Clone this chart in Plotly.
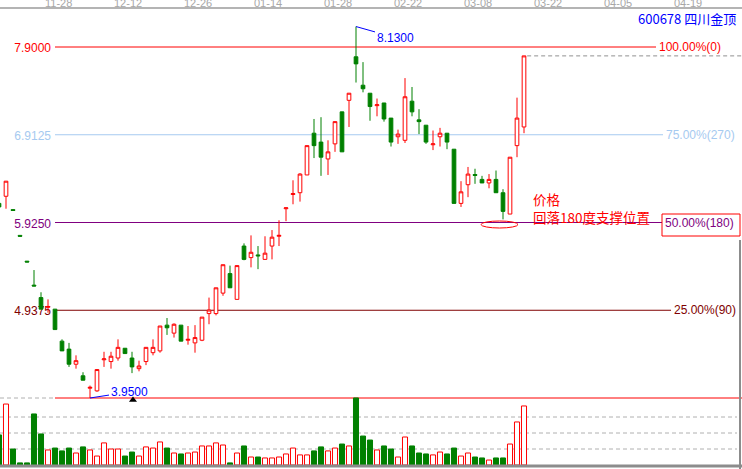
import plotly.graph_objects as go

# ---- daily sessions (index 0 = first visible session) ----
opens = [6.14, 6.22, 6.07, 5.78, 5.49, 5.22, 5.08, 4.97, 4.95, 4.59,
         4.50, 4.33, 4.20, 4.06, 4.03, 4.38, 4.36, 4.40, 4.51, 4.40,
         4.28, 4.36, 4.46, 4.48, 4.77, 4.68, 4.77, 4.60, 4.57, 4.60,
         4.90, 4.90, 5.13, 5.35, 5.06, 5.66, 5.53, 5.56, 5.51, 5.66,
         5.77, 6.08, 6.24, 6.26, 6.46, 6.93, 6.83, 6.64, 6.81, 7.17,
         7.30, 7.79, 7.47, 7.38, 7.24, 7.27, 7.10, 6.89, 6.85, 7.29,
         7.08, 7.02, 6.80, 6.89, 6.93, 6.75, 6.14, 6.35, 6.465, 6.41,
         6.37, 6.41, 6.26, 6.02, 6.79, 7.00]
highs = [6.14, 6.39, 6.07, 5.78, 5.49, 5.39, 5.14, 5.06, 4.95, 4.61,
         4.57, 4.43, 4.24, 4.09, 4.27, 4.47, 4.47, 4.61, 4.51, 4.47,
         4.37, 4.52, 4.61, 4.76, 4.85, 4.79, 4.77, 4.76, 4.77, 4.86,
         5.08, 5.19, 5.45, 5.44, 5.44, 5.69, 5.78, 5.66, 5.77, 5.84,
         5.95, 6.09, 6.40, 6.48, 6.79, 7.09, 7.11, 6.85, 7.06, 7.17,
         7.38, 8.13, 7.73, 7.38, 7.32, 7.27, 7.10, 6.97, 7.55, 7.45,
         7.20, 7.02, 6.96, 6.99, 6.93, 6.75, 6.39, 6.55, 6.53, 6.45,
         6.47, 6.51, 6.30, 6.66, 7.33, 7.80]
lows = [6.10, 6.08, 6.06, 5.77, 5.48, 5.21, 4.95, 4.91, 4.72, 4.48,
        4.30, 4.28, 4.15, 3.95, 4.02, 4.30, 4.28, 4.37, 4.45, 4.23,
        4.25, 4.32, 4.43, 4.46, 4.66, 4.63, 4.59, 4.55, 4.46, 4.59,
        4.78, 4.88, 5.10, 5.19, 5.06, 5.50, 5.42, 5.40, 5.51, 5.51,
        5.66, 5.94, 6.13, 6.16, 6.46, 6.65, 6.45, 6.46, 6.72, 6.72,
        7.00, 7.50, 7.39, 7.07, 7.12, 7.06, 6.78, 6.81, 6.82, 7.12,
        6.92, 6.81, 6.74, 6.78, 6.75, 6.14, 6.10, 6.21, 6.36, 6.37,
        6.31, 6.26, 5.96, 6.02, 6.66, 6.93]
closes = [6.10, 6.39, 6.06, 5.77, 5.48, 5.21, 4.95, 4.98, 4.72, 4.48,
          4.33, 4.37, 4.15, 4.07, 4.27, 4.39, 4.42, 4.52, 4.45, 4.30,
          4.31, 4.52, 4.52, 4.76, 4.74, 4.78, 4.59, 4.61, 4.63, 4.86,
          4.94, 5.19, 5.45, 5.19, 5.44, 5.51, 5.59, 5.55, 5.58, 5.76,
          5.78, 6.09, 6.25, 6.47, 6.79, 6.79, 6.66, 6.72, 7.06, 6.72,
          7.38, 7.71, 7.43, 7.23, 7.25, 7.09, 6.83, 6.92, 7.34, 7.17,
          7.06, 6.83, 6.81, 6.93, 6.83, 6.14, 6.27, 6.47, 6.455, 6.37,
          6.41, 6.26, 6.05, 6.66, 7.10, 7.80]
volumes = [18.8, 38.1, 10.0, 1.3, 1.3, 31.9, 19.4, 9.4, 10.6, 8.8,
           10.6, 7.5, 11.3, 9.4, 5.6, 13.8, 10.0, 10.0, 5.6, 8.1,
           5.6, 11.3, 10.6, 14.4, 10.6, 7.5, 6.9, 7.5, 8.1, 11.9,
           11.9, 13.8, 12.5, 1.3, 7.5, 11.9, 5.0, 5.0, 4.4, 4.4,
           5.0, 6.9, 10.6, 6.3, 6.3, 8.8, 11.3, 8.8, 10.6, 13.1,
           11.9, 41.9, 18.1, 15.6, 9.4, 11.9, 10.0, 5.0, 17.5, 11.9,
           7.5, 6.9, 6.3, 8.1, 6.9, 10.6, 5.6, 7.5, 5.0, 4.4,
           3.1, 4.4, 4.4, 13.1, 26.9, 36.9]

date_labels = ["11-28", "12-12", "12-26", "01-14", "01-28",
               "02-22", "03-08", "03-22", "04-05", "04-19"]
date_index = [8, 18, 28, 38, 48, 58, 68, 78, 88, 98]

# retracement levels between the swing low 3.95 and the 7.90 line
levels = [7.9, 6.9125, 5.925, 4.9375, 3.95]
level_tags = ["100.00%(0)", "75.00%(270)", "50.00%(180)", "25.00%(90)", None]
level_colors = ["#ff0000", "#a6caf0", "#800080", "#800000", "#ff0000"]
level_line_end = [656, 663, 662, 671, 742]   # px where each line stops

swing_high_idx, swing_low_idx = 51, 13
vol_grid = [10, 20, 30]

title_text = "600678 四川金顶"
note_text = "价格<br>回落180度支撑位置"

# ---- geometry ----
W, H = 742, 469
T = 9                      # top margin holding the date strip
PX_PER_PRICE = 88.86
ANCHOR_PRICE, ANCHOR_PY = levels[0], 47
y_top = ANCHOR_PRICE + (ANCHOR_PY - T) / PX_PER_PRICE
y_bot = ANCHOR_PRICE - (H - ANCHOR_PY) / PX_PER_PRICE
VOL_BASE_PY, PX_PER_VOL = 465, 1.6
v_bot = -(H - VOL_BASE_PY) / PX_PER_VOL
v_top = (VOL_BASE_PY - T) / PX_PER_VOL
SLOT = 7.0                 # px per session
x0 = 1 / SLOT
x_range = [x0, x0 + W / SLOT]


def PX(px):
    return px / W


def PY(py):
    return (H - py) / (H - T)


RED, GREEN, BLUE = "#ff0000", "#008000", "#0000ff"
idx = list(range(len(opens)))
up = [c >= o for o, c in zip(opens, closes)]

fig = go.Figure()

fig.add_trace(go.Bar(
    x=idx, y=volumes, yaxis="y2", width=0.72,
    marker=dict(color=["#ffffff" if u else GREEN for u in up],
                line=dict(color=[RED if u else GREEN for u in up], width=1)),
    hoverinfo="skip", showlegend=False))

fig.add_trace(go.Candlestick(
    x=idx, open=opens, high=highs, low=lows, close=closes,
    increasing=dict(line=dict(color=RED, width=1), fillcolor="#ffffff"),
    decreasing=dict(line=dict(color=GREEN, width=1), fillcolor=GREEN),
    whiskerwidth=0, hoverinfo="skip", showlegend=False))

# small cursor marker under the swing low
fig.add_trace(go.Scatter(
    x=[19.14], y=[y_bot + (H - 400) / PX_PER_PRICE], mode="markers",
    marker=dict(symbol="triangle-up", size=7, color="#000000"),
    hoverinfo="skip", showlegend=False))

shapes = []
annotations = []
LABEL_FONT = "Liberation Sans, Arial, sans-serif"

for lv, tag, col, end in zip(levels, level_tags, level_colors, level_line_end):
    shapes.append(dict(type="line", xref="paper", yref="y",
                       x0=PX(55), x1=PX(end), y0=lv, y1=lv,
                       line=dict(color=col, width=1), layer="below"))
    if tag is not None:
        # price on the left, drawn beneath the candles
        shapes.append(dict(type="rect", xref="paper", yref="y",
                           x0=0, x1=PX(54), y0=lv - 0.06, y1=lv + 0.06,
                           line=dict(width=0), fillcolor="rgba(0,0,0,0)",
                           layer="below",
                           label=dict(text=f"{lv:.4f}", textposition="middle right",
                                      padding=0,
                                      font=dict(family=LABEL_FONT, size=12, color=col))))
        annotations.append(dict(xref="paper", yref="y", x=PX(end + 1), y=lv,
                                text=tag, showarrow=False, xanchor="left",
                                yanchor="middle",
                                font=dict(family=LABEL_FONT, size=12, color=col)))

# date strip along the top edge
for di, lab in zip(date_index, date_labels):
    annotations.append(dict(xref="x", yref="paper", x=di + 0.43, y=PY(10.5),
                            text=lab, showarrow=False, xanchor="center",
                            yanchor="bottom",
                            font=dict(family=LABEL_FONT, size=11, color="#a8a8a8")))

# dashed stub left of the low line (top of the volume pane)
shapes.append(dict(type="line", xref="paper", yref="y", x0=0, x1=PX(53),
                   y0=levels[-1], y1=levels[-1], layer="below",
                   line=dict(color="#b0b0b0", width=1, dash="4px,3px")))

# volume grid
for g in vol_grid:
    shapes.append(dict(type="line", xref="paper", yref="y2", x0=0, x1=PX(737),
                       y0=g, y1=g, layer="below",
                       line=dict(color="#b0b0b0", width=1, dash="4px,3px")))

# last-close guide
shapes.append(dict(type="line", xref="x", yref="y", x0=idx[-1] + 0.45, x1=x_range[1],
                   y0=closes[-1], y1=closes[-1], layer="below",
                   line=dict(color="#909090", width=1, dash="4px,3px")))

# frame: bottom bar and right edge of the volume pane
shapes.append(dict(type="line", xref="paper", yref="paper", x0=0, x1=1,
                   y0=PY(466), y1=PY(466), line=dict(color="#8c8c8c", width=3)))
shapes.append(dict(type="line", xref="paper", yref="paper", x0=PX(740), x1=PX(740),
                   y0=PY(240), y1=0, line=dict(color="#8c8c8c", width=2)))

# highlight around the 50% support touch and the 50% tag
shapes.append(dict(type="circle", xref="paper", yref="paper",
                   x0=PX(481), x1=PX(518), y0=PY(228), y1=PY(221),
                   line=dict(color=RED, width=1)))
shapes.append(dict(type="rect", xref="paper", yref="paper",
                   x0=PX(662), x1=PX(740), y0=PY(236), y1=PY(214),
                   line=dict(color=RED, width=1)))

# swing high / low flags
annotations.append(dict(x=swing_high_idx, y=highs[swing_high_idx], xref="x", yref="y",
                        text=f"{highs[swing_high_idx]:.4f}", showarrow=True,
                        arrowhead=0, arrowwidth=1, arrowcolor=BLUE, ax=39, ay=11,
                        standoff=0, font=dict(family=LABEL_FONT, size=12, color=BLUE)))
annotations.append(dict(x=swing_low_idx, y=lows[swing_low_idx], xref="x", yref="y",
                        text=f"{lows[swing_low_idx]:.4f}", showarrow=True,
                        arrowhead=0, arrowwidth=1, arrowcolor=BLUE, ax=39, ay=-6,
                        standoff=0, font=dict(family=LABEL_FONT, size=12, color=BLUE)))

CJK = "Noto Sans CJK SC, sans-serif"
annotations.append(dict(xref="paper", yref="paper", x=PX(738), y=PY(18),
                        text=title_text, showarrow=False, xanchor="right",
                        yanchor="middle", font=dict(family=CJK, size=13, color=BLUE)))
annotations.append(dict(xref="paper", yref="paper", x=PX(531), y=PY(208),
                        text=note_text, showarrow=False, xanchor="left",
                        yanchor="middle", align="left",
                        font=dict(family=CJK, size=13.5, color=RED)))

fig.update_layout(
    width=W, height=H,
    margin=dict(l=0, r=0, t=T, b=0, autoexpand=False),
    paper_bgcolor="#ffffff", plot_bgcolor="#ffffff",
    boxgap=0.25,
    shapes=shapes, annotations=annotations,
    xaxis=dict(range=x_range, side="top", showgrid=False, zeroline=False,
               automargin=False, showticklabels=False,
               showline=True, linecolor="#b4b4b4", linewidth=2, ticks="",
               rangeslider=dict(visible=False), fixedrange=True),
    yaxis=dict(range=[y_bot, y_top], visible=False, fixedrange=True, automargin=False),
    yaxis2=dict(range=[v_bot, v_top], overlaying="y", visible=False, fixedrange=True,
                automargin=False),
)

fig.write_html("out.html")
